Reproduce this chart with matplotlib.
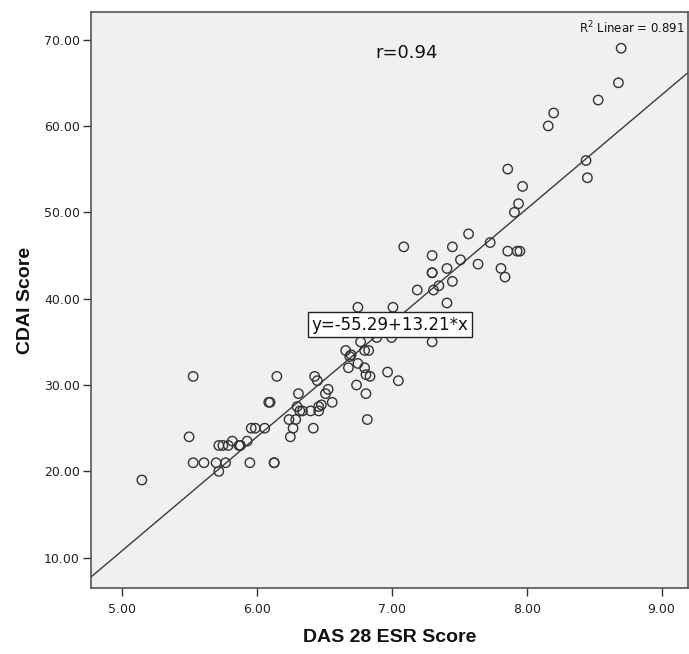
import numpy as np
import matplotlib

matplotlib.use('Agg')
import matplotlib.pyplot as plt

# data (DAS28-ESR vs CDAI)
das28 = [5.15, 5.50, 5.53, 5.53, 5.61, 5.70, 5.72, 5.77, 5.72, 5.75,
         5.79, 5.82, 5.87, 5.88, 5.93, 5.95, 5.96, 5.99, 6.06, 6.09,
         6.10, 6.13, 6.13, 6.15, 6.24, 6.25, 6.27, 6.29, 6.30, 6.31,
         6.32, 6.34, 6.40, 6.42, 6.43, 6.45, 6.46, 6.48, 6.46, 6.51,
         6.53, 6.56, 6.66, 6.68, 6.69, 6.70, 6.74, 6.75, 6.75, 6.77,
         6.80, 6.83, 6.80, 6.81, 6.84, 6.81, 6.82, 6.89, 6.97, 7.00,
         7.01, 7.05, 7.09, 7.19, 7.30, 7.30, 7.30, 7.30, 7.31, 7.35,
         7.41, 7.41, 7.45, 7.45, 7.51, 7.57, 7.64, 7.73, 7.81, 7.84,
         7.86, 7.93, 7.95, 7.86, 7.91, 7.94, 7.97, 8.16, 8.20, 8.44,
         8.45, 8.53, 8.68, 8.70]
cdai = [19.0, 24.0, 31.0, 21.0, 21.0, 21.0, 20.0, 21.0, 23.0, 23.0,
        23.0, 23.5, 23.0, 23.0, 23.5, 21.0, 25.0, 25.0, 25.0, 28.0,
        28.0, 21.0, 21.0, 31.0, 26.0, 24.0, 25.0, 26.0, 27.5, 29.0,
        27.0, 27.0, 27.0, 25.0, 31.0, 30.5, 27.5, 27.7, 27.0, 29.0,
        29.5, 28.0, 34.0, 32.0, 33.3, 33.5, 30.0, 32.5, 39.0, 35.0,
        34.0, 34.0, 32.0, 31.2, 31.0, 29.0, 26.0, 35.5, 31.5, 35.5,
        39.0, 30.5, 46.0, 41.0, 35.0, 43.0, 43.0, 45.0, 41.0, 41.5,
        39.5, 43.5, 42.0, 46.0, 44.5, 47.5, 44.0, 46.5, 43.5, 42.5,
        45.5, 45.5, 45.5, 55.0, 50.0, 51.0, 53.0, 60.0, 61.5, 56.0,
        54.0, 63.0, 65.0, 69.0]

intercept = -55.29
slope = 13.21
r_value = 0.94
r2_linear = 0.891

x_ticks = [5, 6, 7, 8, 9]
y_ticks = [10, 20, 30, 40, 50, 60, 70]

fig = plt.figure(figsize=(6.89, 6.54), dpi=100)
ax = fig.add_axes([0.132, 0.101, 0.8665, 0.8807])
ax.set_facecolor('#f0f0f0')

xlim = (4.773, 9.195)
ylim = (6.5, 73.2)

# fit line across the full x range
xl = np.array(xlim)
ax.plot(xl, intercept + slope * xl, color='#3a3a3a', linewidth=1.0, zorder=2)

ax.scatter(das28, cdai, s=46, facecolors='none', edgecolors='#333333',
           linewidths=1.0, zorder=3)

ax.set_xlim(*xlim)
ax.set_ylim(*ylim)
ax.set_xticks(x_ticks)
ax.set_xticklabels(['%.2f' % v for v in x_ticks])
ax.set_yticks(y_ticks)
ax.set_yticklabels(['%.2f' % v for v in y_ticks])

for side in ['left', 'bottom', 'top', 'right']:
    ax.spines[side].set_color('#555555')
    ax.spines[side].set_linewidth(1.2)
ax.tick_params(direction='out', length=6, width=1.0, color='#333333',
               labelsize=9, labelcolor='#222222')
ax.tick_params(axis='x', pad=5)
ax.tick_params(axis='y', pad=2)

label_font = {'family': ['Liberation Sans Narrow', 'Liberation Sans', 'DejaVu Sans'],
              'weight': 'bold', 'size': 14, 'color': '#111111'}
ax.set_xlabel('DAS 28 ESR Score', fontdict=label_font, labelpad=9)
ax.set_ylabel('CDAI Score', fontdict=label_font, labelpad=7)

ax.text(7.11, 68.5, 'r=%.2f' % r_value, ha='center', va='center',
        fontsize=13, color='#111111')
ax.text(0.995, 0.973, r'R$^2$ Linear = %.3f' % r2_linear, transform=ax.transAxes,
        ha='right', va='center', fontsize=8.5, color='#111111')
ax.text(6.99, 37.0, 'y=%.2f+%.2f*x' % (intercept, slope), ha='center', va='center',
        fontsize=12, color='#111111', zorder=4,
        bbox=dict(boxstyle='square,pad=0.2', facecolor='white',
                  edgecolor='#222222', linewidth=1.0))

plt.savefig('out.png', dpi=100)
